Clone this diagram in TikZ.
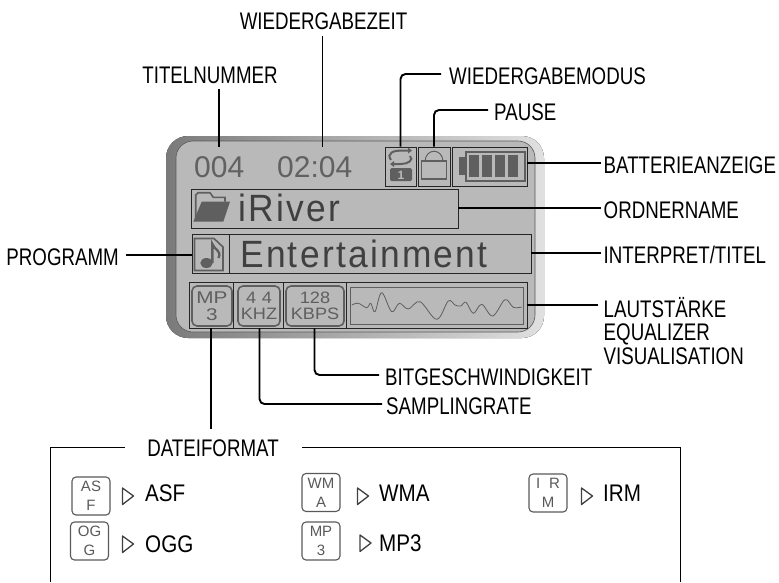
\documentclass[tikz,border=0pt]{standalone}
\usepackage{fontspec}
\setmainfont{Liberation Sans}
\newfontfamily\lcdfont[LetterSpace=6,FakeStretch=.93]{Liberation Sans}
\newfontfamily\iconfont[FakeStretch=1.22]{Liberation Sans}
\newfontfamily\ratefont[FakeStretch=1.1]{Liberation Sans}
\newfontfamily\labfont[FakeStretch=.78]{Liberation Sans}
\newfontfamily\fmtfont[FakeStretch=.86]{Liberation Sans}
\definecolor{lcdgray}{HTML}{5F5F5F}
\definecolor{lcdface}{HTML}{B9B9B9}
\tikzset{
  lcdbox/.style={draw=black!85, line width=.9pt, inner sep=0pt},
  lead/.style={line width=1.9pt, rounded corners=5pt},
  lab/.style={font=\labfont\fontsize{24}{24}\selectfont, inner sep=0pt, text height=20pt, text depth=0pt},
  lablong/.style={lab, anchor=west, inner xsep=3pt},
  fmtlab/.style={lab, anchor=west, font=\fmtfont\fontsize{24}{24}\selectfont},
  lcdicon/.style={draw=lcdgray, line width=1.6pt, rounded corners=5pt, inner sep=0pt, text=lcdgray, align=center, font=\ratefont\fontsize{16.5}{16.5}\selectfont},
  fmticon/.style={draw=black!65, line width=1.1pt, rounded corners=4pt, minimum width=38, minimum height=38, inner sep=0pt, text=black!65, align=center, font=\fontsize{15}{19}\selectfont},
  playmark/.style={draw=black!75, line width=1.3pt, fill=white, line join=round},
  gfx/.style={draw=lcdgray, line width=1.6pt},
  gfxfill/.style={fill=lcdgray},
}
\begin{document}
\begin{tikzpicture}[x=1pt, y=-1pt]
        \useasboundingbox (0,0) rectangle (779,582);

        \fill [left color=black!52, right color=black!12, rounded corners=22pt] (166,136) rectangle (544,338);
        \draw [fill=lcdface, draw=black!65, line width=.6pt, rounded corners=17pt] (176,141) rectangle (535,332);

        \node [lcdbox, minimum width=31, minimum height=39] (modus) at (400.5,166.5) {};
        \node [lcdbox, minimum width=32, minimum height=39] (pause) at (434,166.5) {};
        \node [lcdbox, minimum width=75, minimum height=39] (akku) at (489.5,166.5) {};
        \node [lcdbox, minimum width=267, minimum height=39] (ordner) at (324.5,208.5) {};
        \node [lcdbox, minimum width=37, minimum height=39] (prog) at (210.5,253.5) {};
        \node [lcdbox, minimum width=302, minimum height=39] (titel) at (380,253.5) {};
        \node [lcdbox, minimum width=44, minimum height=46] (format) at (211,305) {};
        \node [lcdbox, minimum width=50, minimum height=46] (rate) at (258,305) {};
        \node [lcdbox, minimum width=63, minimum height=46] (kbps) at (314.5,305) {};
        \node [lcdbox, minimum width=181, minimum height=46] (eq) at (436.5,305) {};

        \node [text=black!62, font=\fontsize{30}{32}\selectfont, inner sep=0pt, anchor=west] (nummer) at (194,167) {004};
        \node [text=black!62, font=\fontsize{30}{32}\selectfont, inner sep=0pt, anchor=west] (zeit) at (277,167) {02:04};
        \node [text=black!75, font=\lcdfont\fontsize{38}{40}\selectfont, inner sep=0pt, anchor=west] (ordnertext) at (238,208) {iRiver};
        \node [text=black!75, font=\lcdfont\fontsize{38}{40}\selectfont, inner sep=0pt, anchor=west] (titeltext) at (240,254) {Entertainment};

        \draw [gfx] (195.7,221) -- (195.7,195) -- (198,192.7) -- (210,192.7) -- (213.3,197.3) -- (225,197.3) -- (225,201.7);
        \fill [gfxfill] (201.7,201.7) -- (230,201.7) -- (223.3,221.7) -- (193.3,221.7) -- cycle;

        \draw [gfx] (194.5,238.5) -- (214,238.5) -- (223,247) -- (223,270.5) -- (194.5,270.5) -- cycle;
        \draw [gfx, line width=2.4pt] (212.4,263) -- (212.4,244) .. controls (214,250) and (222,250) .. (218.5,258);
        \fill [gfxfill] (206.5,263) ellipse [x radius=6.2, y radius=5];

        \draw [gfx, line width=2pt] (391,160) .. controls (386,153) and (394,150.5) .. (401,150.5) -- (408,150.5);
        \draw [gfx, line width=2pt] (410,156) .. controls (414,160) and (408,164) .. (401,164) -- (394,164);
        \fill [gfxfill] (408,147.5) -- (408,153.5) -- (412,150.5) -- cycle;
        \fill [gfxfill] (394,161) -- (394,167) -- (390,164) -- cycle;
        \fill [gfxfill, rounded corners=1.5pt] (390,168) rectangle (412,181);
        \node [text=lcdface, font=\bfseries\fontsize{12}{12}\selectfont, inner sep=0pt] (eins) at (401,175) {1};

        \draw [gfx] (421.5,161) rectangle (446.5,179);
        \draw [gfx, line width=1pt] (425,161) .. controls (426,148) and (442,148) .. (443,161);

        \draw [gfx, line width=2pt] (466,151.5) rectangle (524.5,180.5);
        \fill [gfxfill] (459,157) rectangle (465,175);
        \fill [gfxfill] (469,155) rectangle (479,177);
        \fill [gfxfill] (482,155) rectangle (492,177);
        \fill [gfxfill] (495,155) rectangle (505,177);
        \fill [gfxfill] (508,155) rectangle (518,177);

        \node [lcdicon, minimum width=40, minimum height=40, font=\iconfont\fontsize{17}{17}\selectfont] (iconmp) at (212,306) {MP\\3};
        \node [lcdicon, minimum width=42, minimum height=40] (iconkhz) at (259,306) {4\hspace{.35em}4\\KHZ};
        \node [lcdicon, minimum width=58, minimum height=40] (iconkbps) at (315,306) {128\\KBPS};

        \draw [gfx, line width=1.8pt] (350.5,287.5) rectangle (523.5,324.5);
        \draw [lcdgray, line width=.8pt] plot [smooth, tension=.6] coordinates {(351.7,305) (358.3,303.3) (366.7,307.7) (370.7,303.3) (375,311.7) (381.7,292.7) (391.7,311.7) (399.3,303.3) (408.3,309) (420,301.7) (436.7,319.3) (448.3,301) (455,305) (460.7,306) (466,302.3) (473.3,313.3) (481.7,304.3) (492.7,316) (505,299.7) (513.3,307.3) (521.7,307)};

        \node [lab] (zeitlab) at (323.5,19) {WIEDERGABEZEIT};
        \node [lab] (nummerlab) at (210,73) {TITELNUMMER};
        \node [lablong, inner xsep=8pt] (moduslab) at (441,74) {WIEDERGABEMODUS};
        \node [lablong, inner xsep=6pt] (pauselab) at (488,110) {PAUSE};
        \node [lablong] (akkulab) at (600.5,163) {BATTERIEANZEIGE};
        \node [lablong] (ordnerlab) at (600.5,208) {ORDNERNAME};
        \node [lablong] (titellab) at (600.5,253) {INTERPRET/TITEL};
        \node [lablong] (eqlab) at (600.5,307) {LAUTST\"ARKE};
        \node [lablong] (eqlabb) at (600.5,330) {EQUALIZER};
        \node [lablong] (eqlabc) at (600.5,354) {VISUALISATION};
        \node [lab, anchor=east, inner xsep=7pt] (proglab) at (126,255) {PROGRAMM};
        \node [lablong, inner xsep=6pt] (kbpslab) at (379,375) {BITGESCHWINDIGKEIT};
        \node [lablong, inner xsep=4pt] (ratelab) at (382,404) {SAMPLINGRATE};
        \node [lab] (formatlab) at (213,446) {DATEIFORMAT};

        \coordinate (nummertop) at (219,89);
        \coordinate (nummerend) at (219,147);
        \coordinate (zeittop) at (322.5,36);
        \coordinate (zeitend) at (322.5,147);
        \coordinate (formatend) at (211,429);
        \coordinate (eqend) at (598,305);
        \draw [lead] (nummertop) -- (nummerend);
        \draw [lead] (zeittop) -- (zeitend);
        \draw [lead] (modus.north) |- (moduslab.west);
        \draw [lead] (pause.north) |- (pauselab.west);
        \draw [lead] (akku.east |- akkulab.west) -- (akkulab.west);
        \draw [lead] (ordner.east |- ordnerlab.west) -- (ordnerlab.west);
        \draw [lead] (titel.east |- titellab.west) -- (titellab.west);
        \draw [lead] (eq.east) -- (eqend);
        \draw [lead] (proglab.east) -- (prog.west |- proglab.east);
        \draw [lead] (kbps.south) |- (kbpslab.west);
        \draw [lead] ([xshift=1.5pt]rate.south) |- (ratelab.west);
        \draw [lead] (format.south) -- (formatend);

        \coordinate (frameleft) at (50,582);
        \coordinate (frameright) at (680,582);
        \coordinate (framea) at (125,447);
        \coordinate (frameb) at (302,447);
        \draw [line width=.9pt] (frameleft) |- (framea);
        \draw [line width=.9pt] (frameb) -| (frameright);

        \node [fmticon] (asf) at (91,496) {AS\\F};
        \node [fmticon] (ogg) at (89.5,541) {OG\\G};
        \node [fmticon] (wma) at (321,492.5) {WM\\A};
        \node [fmticon] (mp) at (321,541) {MP\\3};
        \node [fmticon] (irm) at (548,493) {I\hspace{.6em}R\\M};

        \draw [playmark] (122.5,488) -- (133.5,496) -- (122.5,504.5) -- cycle;
        \draw [playmark] (122.5,536) -- (133.5,544) -- (122.5,552.5) -- cycle;
        \draw [playmark] (357.5,488) -- (368.5,496) -- (357.5,504.5) -- cycle;
        \draw [playmark] (360,535) -- (371,543) -- (360,551.5) -- cycle;
        \draw [playmark] (581.5,488) -- (592.5,496) -- (581.5,504.5) -- cycle;

        \node [fmtlab] (asflab) at (145,491) {ASF};
        \node [fmtlab] (ogglab) at (145,542) {OGG};
        \node [fmtlab] (wmalab) at (379,491) {WMA};
        \node [fmtlab] (mplab) at (379,541) {MP3};
        \node [fmtlab] (irmlab) at (603,491) {IRM};
\end{tikzpicture}
\end{document}
